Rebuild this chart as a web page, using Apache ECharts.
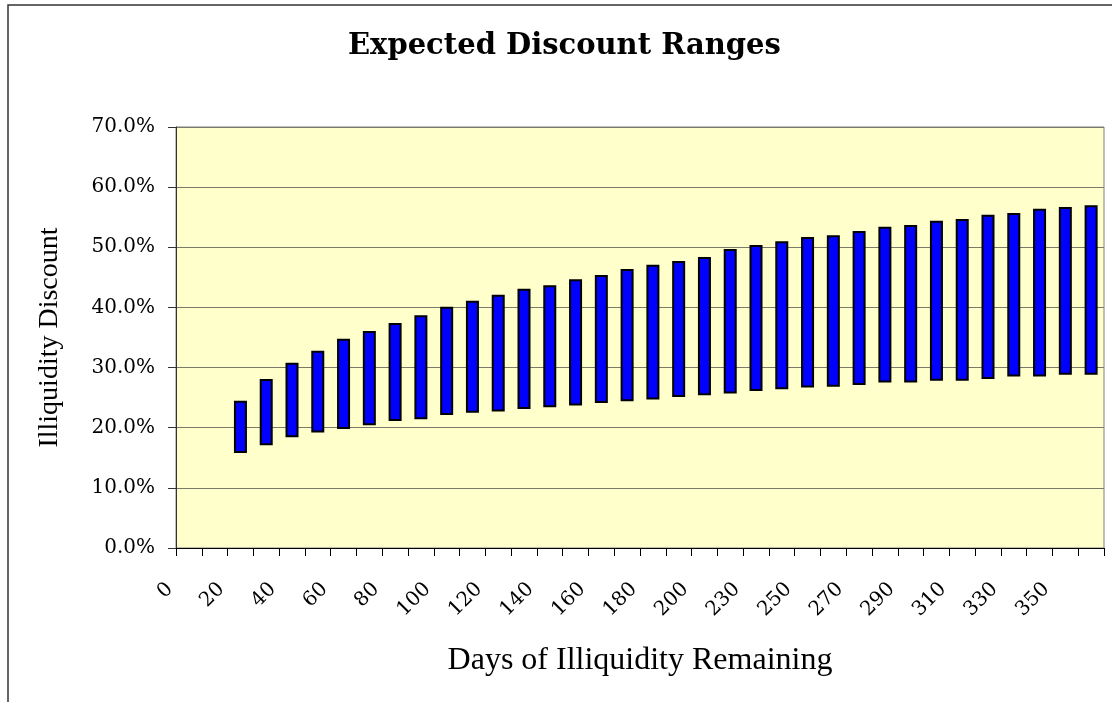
<!DOCTYPE html>
<html>
<head>
    <meta charset="UTF-8" />
    <title>Expected Discount Ranges</title>
    <script src="https://cdn.jsdelivr.net/npm/echarts@6/dist/echarts.min.js"></script>
    <style>
        html, body { margin: 0; padding: 0; background: #fff; }
        #main { width: 1112px; height: 702px; }
    </style>
</head>
<body>
<div id="main"></div>
<script>
var chart = echarts.init(document.getElementById('main'));

/* days of illiquidity (x categories) - only every other one is labelled */
var days = [0, 10, 20, 30, 40, 50, 60, 70, 80, 90, 100, 110, 120, 130, 140, 150, 160, 170, 180, 190, 200,
            215, 230, 240, 250, 260, 270, 280, 290, 300, 310, 320, 330, 340, 350, 360];

/* low / high end of the expected discount, in percent ('-' = no bar) */
var lowPct = ['-', '-', 15.8, 17.1, 18.4, 19.2, 19.8, 20.4, 21.1, 21.4, 22.1, 22.5, 22.7, 23.1, 23.4, 23.7,
              24.1, 24.4, 24.7, 25.1, 25.4, 25.7, 26.1, 26.4, 26.7, 26.8, 27.1, 27.5, 27.5, 27.8, 27.8,
              28.1, 28.5, 28.5, 28.8, 28.8];
var highPct = ['-', '-', 24.5, 28.1, 30.8, 32.8, 34.8, 36.1, 37.4, 38.7, 40.1, 41.1, 42.1, 43.1, 43.7, 44.7,
               45.4, 46.4, 47.1, 47.7, 48.4, 49.7, 50.4, 51.0, 51.7, 52.0, 52.7, 53.4, 53.7, 54.4, 54.7,
               55.4, 55.7, 56.4, 56.7, 57.0];

// floating bars: invisible base + visible range on the same stack
var spans = highPct.map(function (h, i) {
    return h === '-' ? '-' : +(h - lowPct[i]).toFixed(2);
});

var tickFont = 'DejaVu Serif';
var nameFont = 'Liberation Serif';

var option = {
    backgroundColor: '#fff',
    animation: false,
    title: {
        text: 'Expected Discount Ranges',
        left: 343,
        top: 27,
        padding: 5,
        textStyle: {
            fontFamily: tickFont,
            fontWeight: 'bold',
            fontSize: 29,
            color: '#000'
        }
    },
    graphic: [{
        type: 'rect',
        shape: { x: 8, y: 5, width: 1200, height: 800 },
        style: { fill: 'none', stroke: '#333', lineWidth: 1.5 },
        silent: true
    }],
    grid: {
        left: 176,
        right: 8,
        top: 127,
        bottom: 154,
        show: true,
        backgroundColor: '#FFFFCC',
        borderColor: '#808080',
        borderWidth: 1
    },
    xAxis: {
        type: 'category',
        data: days,
        name: 'Days of Illiquidity Remaining',
        nameLocation: 'middle',
        nameGap: 97,
        nameTextStyle: { fontFamily: nameFont, fontSize: 32, color: '#000' },
        axisLine: { lineStyle: { color: '#000', width: 1 } },
        axisTick: { show: true, interval: 0, length: 8, lineStyle: { color: '#000' } },
        axisLabel: {
            interval: 1,
            rotate: 45,
            margin: 19,
            padding: [0, 27, 0, 0],
            fontFamily: tickFont,
            fontSize: 20,
            color: '#000'
        },
        splitLine: { show: false }
    },
    yAxis: {
        type: 'value',
        min: 0,
        max: 70,
        interval: 10,
        name: 'Illiquidity Discount',
        nameLocation: 'middle',
        nameGap: 112,
        nameTextStyle: { fontFamily: nameFont, fontSize: 28, color: '#000' },
        axisLine: { show: true, lineStyle: { color: '#333', width: 1 } },
        axisTick: { show: true, length: 8, lineStyle: { color: '#333' } },
        axisLabel: {
            margin: 21,
            fontFamily: tickFont,
            fontSize: 20,
            color: '#000',
            formatter: function (v) { return v.toFixed(1) + '%'; }
        },
        splitLine: { show: true, lineStyle: { color: '#7a7a6a', width: 1.2 } }
    },
    series: [
        {
            name: 'base',
            type: 'bar',
            stack: 'range',
            barWidth: 13,
            silent: true,
            itemStyle: { color: 'transparent', borderWidth: 0 },
            data: lowPct
        },
        {
            name: 'range',
            type: 'bar',
            stack: 'range',
            barWidth: 13,
            itemStyle: { color: '#0000FF', borderColor: '#000', borderWidth: 2 },
            data: spans
        }
    ]
};

chart.setOption(option);
</script>
</body>
</html>
